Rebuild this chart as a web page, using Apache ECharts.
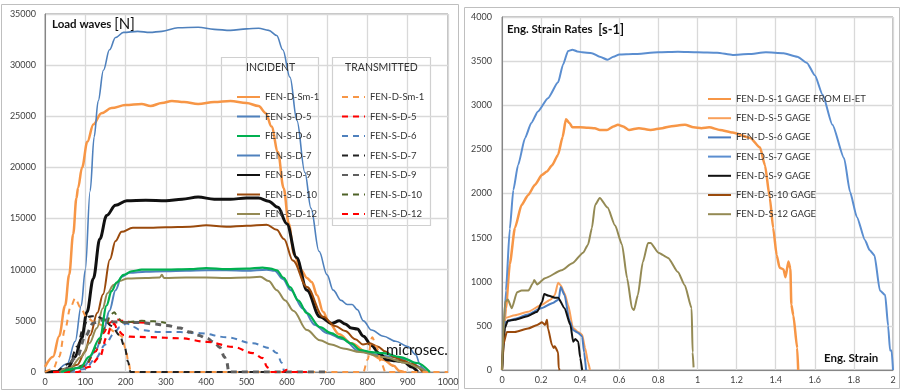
<!DOCTYPE html>
<html><head><meta charset="utf-8">
<script src="https://cdn.jsdelivr.net/npm/echarts@6/dist/echarts.min.js"></script>
<style>html,body{margin:0;padding:0;background:#fff}#c{width:902px;height:392px}</style>
</head><body><div id="c"></div>
<script>
// ---------- Left chart: load waves [N] vs microsec ----------
const loadTicksX = [0,100,200,300,400,500,600,700,800,900,1000];
const loadTicksY = [0,5000,10000,15000,20000,25000,30000,35000];
// incident waves
const incSm1 = [[0,500],[20,1500],[35,3500],[50,6500],[60,9500],[70,13500],[78,17000],[82,18000],[92,20000],[105,22500],[120,24200],[140,25300],[165,25800],[200,26100],[240,26200],[262,26000],[290,26300],[315,26500],[345,26400],[380,26200],[420,26400],[460,26500],[500,26300],[530,26000],[548,25300],[562,24000],[578,21500],[592,18000],[605,14500],[618,11500],[635,10000],[650,9200],[662,8800],[675,7500],[690,5900],[705,4800],[730,3700],[760,2800],[800,1900],[840,1200],[865,600],[880,100],[890,0]];
const incS5 = [[50,0],[95,500],[125,2000],[145,4000],[160,6000],[175,8000],[190,9300],[210,9700],[250,9800],[300,9850],[350,9900],[400,9950],[450,9950],[500,9900],[550,10000],[570,9900],[590,9100],[610,8000],[640,6200],[670,4600],[700,3800],[740,3200],[780,2000],[820,1700],[860,1500],[900,1200],[930,500],[948,0]];
const incS6 = [[40,0],[87,400],[110,1500],[136,3300],[153,6500],[165,7900],[178,8750],[195,9500],[215,9850],[240,10000],[300,10000],[360,10050],[400,10150],[450,10050],[500,10100],[540,10200],[560,10100],[575,9950],[592,9200],[608,8300],[628,7000],[650,5750],[682,4400],[710,3800],[732,3400],[760,2800],[782,2150],[810,1950],[839,1850],[881,1460],[923,880],[955,0]];
const incS7 = [[30,0],[55,800],[75,3000],[90,6500],[100,10000],[112,17700],[122,23000],[132,26500],[145,29500],[160,31500],[175,32700],[195,33200],[230,33300],[260,33200],[290,33300],[330,33650],[380,33700],[420,33500],[460,33400],[500,33550],[530,33600],[555,33400],[575,32900],[590,31500],[608,28800],[625,24600],[645,19500],[660,16000],[680,11800],[700,9500],[715,8000],[735,7000],[750,6600],[762,6600],[775,6100],[790,5000],[810,4100],[840,3500],[870,3000],[900,2500],[920,1700],[930,800],[938,0]];
const incS9 = [[0,0],[30,50],[55,300],[75,1500],[91,3300],[104,5850],[120,9150],[136,13000],[153,15300],[175,16300],[203,16750],[250,16800],[300,16750],[340,16900],[380,17100],[420,16900],[460,16900],[500,17000],[530,17000],[555,16700],[578,16100],[600,14500],[624,11200],[650,8000],[682,5400],[712,4750],[730,5000],[745,4700],[760,4300],[775,4200],[790,3500],[810,2600],[830,1800],[848,1200],[870,1100],[890,1000],[910,500],[925,0]];
const incS10 = [[20,0],[50,100],[80,700],[100,2000],[112,3600],[130,5800],[144,7600],[161,11000],[175,12800],[190,13700],[218,14100],[260,14100],[300,14150],[360,14200],[400,14350],[450,14200],[500,14300],[550,14400],[575,13900],[593,13000],[615,10900],[650,8300],[690,5400],[720,4500],[745,4000],[770,3200],[789,2700],[806,2800],[825,2500],[845,2000],[866,1450],[890,1100],[910,800],[938,0]];
const incS12 = [[30,0],[62,400],[90,1500],[110,2800],[129,4300],[143,6200],[155,7700],[170,8500],[185,8900],[205,9150],[250,9200],[285,9250],[290,9500],[295,9200],[350,9250],[400,9250],[450,9200],[500,9250],[534,9300],[555,8900],[575,8000],[596,7000],[616,6000],[650,4100],[682,3100],[710,2700],[740,2300],[782,1950],[839,1460],[898,880],[925,450],[947,0]];
// transmitted waves
const trSm1 = [[0,0],[20,300],[35,1500],[50,4200],[63,6300],[75,7200],[88,6300],[104,5300],[125,4800],[153,4400],[175,3900],[190,3500],[200,2300],[207,1000],[213,0],[300,0],[400,0],[500,0],[600,0],[700,0],[790,0],[800,1200],[812,3400],[822,2500],[835,800],[845,0],[1000,0]];
const trS5 = [[60,0],[100,600],[125,2000],[145,3800],[160,4800],[175,5150],[195,5000],[220,4850],[255,4800]];
const trS6 = [[60,0],[100,300],[125,1300],[150,2700],[170,3700],[186,4400],[203,4750],[220,4400],[236,4100],[285,3900],[335,3900],[385,3800],[451,3400],[516,2800],[558,2350],[575,1850],[588,880],[593,0]];
const trS7 = [[30,0],[60,800],[80,2500],[95,4300],[108,5400],[125,5500],[145,5200],[165,4500],[185,3600],[198,2400],[206,1000],[212,0],[300,0],[400,0],[500,0],[600,0]];
const trS9 = [[50,0],[80,1500],[100,3500],[120,4800],[145,5100],[170,4900],[200,4850],[236,4850],[270,4700],[302,4550],[335,4300],[360,3900],[380,3600],[401,3300],[420,2900],[434,2400],[445,1500],[451,1000],[456,0],[500,0],[600,0],[700,0]];
const trS10 = [[60,0],[100,700],[130,2500],[150,4400],[163,5600],[172,5850],[180,5400],[190,4900],[210,4900],[240,5000],[270,4950],[300,4800]];
const trS12 = [[20,0],[80,0],[110,500],[136,1460],[153,3400],[165,4500],[172,4700],[180,4100],[195,3600],[211,3450],[261,3400],[335,3300],[402,2950],[467,2450],[516,1850],[541,1350],[551,500],[558,0],[590,0],[600,200],[610,0],[650,0]];

// ---------- Right chart: eng. strain rates vs eng. strain ----------
const rateTicksX = [0,0.2,0.4,0.6,0.8,1,1.2,1.4,1.6,1.8,2];
const rateTicksY = [0,500,1000,1500,2000,2500,3000,3500,4000];
const gS1 = [[0,0],[0.02,700],[0.04,1200],[0.066,1610],[0.1,1870],[0.133,1980],[0.169,2100],[0.204,2210],[0.23,2250],[0.256,2320],[0.287,2440],[0.31,2640],[0.327,2840],[0.345,2800],[0.36,2750],[0.4,2750],[0.44,2745],[0.475,2740],[0.5,2720],[0.537,2720],[0.57,2760],[0.593,2780],[0.62,2760],[0.65,2720],[0.7,2740],[0.76,2720],[0.82,2740],[0.86,2760],[0.9,2770],[0.936,2780],[0.98,2750],[1.02,2740],[1.06,2750],[1.115,2720],[1.18,2690],[1.27,2630],[1.32,2520],[1.345,2320],[1.37,1950],[1.387,1610],[1.405,1300],[1.42,1160],[1.44,1140],[1.45,1050],[1.465,1230],[1.475,1150],[1.48,740],[1.49,620],[1.51,250],[1.515,0]];
const gS5 = [[0,0],[0.015,590],[0.066,620],[0.133,660],[0.204,740],[0.25,800],[0.27,850],[0.287,990],[0.3,960],[0.32,870],[0.338,740],[0.363,480],[0.39,430],[0.41,400],[0.425,250],[0.44,90],[0.45,0]];
const gS6 = [[0,0],[0.015,540],[0.066,580],[0.133,630],[0.2,700],[0.26,760],[0.29,800],[0.3,940],[0.32,850],[0.345,560],[0.365,450],[0.39,420],[0.41,380],[0.42,200],[0.43,0]];
const gS7 = [[0,0],[0.02,900],[0.04,1600],[0.058,2040],[0.082,2320],[0.118,2630],[0.15,2800],[0.184,2930],[0.235,3080],[0.287,3260],[0.312,3460],[0.338,3615],[0.36,3630],[0.385,3610],[0.41,3600],[0.46,3590],[0.5,3550],[0.54,3515],[0.57,3550],[0.6,3575],[0.67,3580],[0.8,3600],[0.9,3605],[1.0,3600],[1.1,3595],[1.18,3570],[1.26,3580],[1.35,3600],[1.44,3590],[1.51,3550],[1.56,3480],[1.6,3340],[1.64,3120],[1.69,2780],[1.75,2400],[1.78,2020],[1.815,1735],[1.857,1470],[1.88,1360],[1.905,1300],[1.933,900],[1.96,850],[1.975,500],[1.985,220],[1.993,220],[2.0,0]];
const gS9 = [[0,0],[0.015,480],[0.03,560],[0.066,570],[0.13,610],[0.18,660],[0.205,770],[0.216,860],[0.24,840],[0.27,820],[0.287,820],[0.32,700],[0.35,510],[0.364,320],[0.375,350],[0.39,320],[0.4,140],[0.41,0]];
const gS10 = [[0,0],[0.005,280],[0.025,430],[0.066,430],[0.133,470],[0.18,510],[0.205,540],[0.22,510],[0.23,570],[0.235,470],[0.256,280],[0.265,250],[0.27,270],[0.287,200],[0.29,20],[0.295,0]];
const gS12 = [[0,0],[0.015,770],[0.03,800],[0.05,700],[0.077,880],[0.1,900],[0.135,900],[0.16,990],[0.165,1020],[0.18,970],[0.22,1040],[0.305,1130],[0.36,1210],[0.415,1330],[0.44,1420],[0.46,1610],[0.476,1870],[0.5,1950],[0.54,1840],[0.578,1640],[0.614,1420],[0.64,1040],[0.665,700],[0.675,680],[0.695,850],[0.72,1220],[0.747,1440],[0.76,1440],[0.8,1330],[0.85,1270],[0.9,1110],[0.935,960],[0.97,700],[0.975,200],[0.98,30]];

const incNames = ['FEN-D-Sm-1','FEN-S-D-5','FEN-S-D-6','FEN-S-D-7','FEN-S-D-9','FEN-S-D-10','FEN-S-D-12'];
const trNames = ['FEN-D-Sm-1 ','FEN-S-D-5 ','FEN-S-D-6 ','FEN-S-D-7 ','FEN-S-D-9 ','FEN-S-D-10 ','FEN-S-D-12 '];
const gageNames = ['FEN-D-S-1 GAGE FROM EI-ET','FEN-D-S-5 GAGE','FEN-D-S-6 GAGE','FEN-D-S-7 GAGE','FEN-D-S-9 GAGE','FEN-D-S-10 GAGE','FEN-D-S-12 GAGE'];

const FONT = 'Lato, "Open Sans", sans-serif';
function ln(name, data, color, width, dashed, grid, z){
  return {type:'line', name, data, xAxisIndex:grid, yAxisIndex:grid, symbol:'none', showSymbol:false,
    smooth:0.35, smoothMonotone:'x', z:z||2, animation:false,
    lineStyle:{color, width, type: dashed ? [6,5] : 'solid', cap:'butt'},
    itemStyle:{color}};
}
const ORANGE='#F79646', BLUE='#4F81BD', GREEN='#00B050', BLACK='#111111', BROWN='#9A4A0C', OLIVE='#948A54', GRAY='#5F5F5F', DKOLIVE='#4F6228', RED='#FF0000';

const incSeries = [
  ln(incNames[0], incSm1, ORANGE, 2.5, false, 0),
  ln(incNames[1], incS5, BLUE, 2, false, 0),
  ln(incNames[2], incS6, GREEN, 2.2, false, 0, 3),
  ln(incNames[3], incS7, BLUE, 1.6, false, 0),
  ln(incNames[4], incS9, BLACK, 3, false, 0),
  ln(incNames[5], incS10, BROWN, 2, false, 0),
  ln(incNames[6], incS12, OLIVE, 2, false, 0)
];
const trSeries = [
  ln(trNames[0], trSm1, ORANGE, 2, true, 0),
  ln(trNames[1], trS5, RED, 2, true, 0),
  ln(trNames[2], trS6, BLUE, 2, true, 0),
  ln(trNames[3], trS7, '#222222', 2, true, 0),
  ln(trNames[4], trS9, GRAY, 3, true, 0),
  ln(trNames[5], trS10, DKOLIVE, 2, true, 0),
  ln(trNames[6], trS12, RED, 2.2, true, 0)
];
const gSeries = [
  ln(gageNames[0], gS1, ORANGE, 2.5, false, 1),
  ln(gageNames[1], gS5, '#F9A05A', 2, false, 1),
  ln(gageNames[2], gS6, '#4A7CC0', 2, false, 1),
  ln(gageNames[3], gS7, '#5B8ED0', 2, false, 1),
  ln(gageNames[4], gS9, BLACK, 2, false, 1),
  ln(gageNames[5], gS10, BROWN, 2, false, 1),
  ln(gageNames[6], gS12, OLIVE, 2, false, 1)
];
gSeries.forEach(s=>{s.smooth=0.2;});

const plain = v => String(v);
const axisLbl = {color:'#404040', fontSize:9, fontFamily:FONT, formatter:plain};
const splitL = {show:true, lineStyle:{color:'#D9D9D9', width:1.3}};
const axLine = {show:true, lineStyle:{color:'#868686', width:1}};
function legend(names, left, top, gap){
  return {data:names, orient:'vertical', left, top, itemWidth:23, itemHeight:10, itemGap:gap,
    padding:0, selectedMode:false, itemStyle:{opacity:0, borderWidth:0},
    textStyle:{fontSize:9.5, color:'#333', fontFamily:FONT}};
}

const chart = echarts.init(document.getElementById('c'), null, {renderer:'canvas'});
chart.setOption({
  animation:false,
  backgroundColor:'#fff',
  grid:[
    {left:45, top:14, width:403, height:358, show:true, borderColor:'#868686', borderWidth:1},
    {left:502, top:17, width:391, height:353, show:true, borderColor:'#868686', borderWidth:1}
  ],
  xAxis:[
    {type:'value', gridIndex:0, min:loadTicksX[0], max:loadTicksX[loadTicksX.length-1], interval:100,
     axisLine:axLine, axisTick:{show:false}, splitLine:splitL, axisLabel:Object.assign({margin:6},axisLbl)},
    {type:'value', gridIndex:1, min:rateTicksX[0], max:rateTicksX[rateTicksX.length-1], interval:0.2,
     axisLine:axLine, axisTick:{show:false}, splitLine:splitL, axisLabel:Object.assign({margin:6},axisLbl)}
  ],
  yAxis:[
    {type:'value', gridIndex:0, min:loadTicksY[0], max:loadTicksY[loadTicksY.length-1], interval:5000,
     axisLine:axLine, axisTick:{show:false}, splitLine:splitL, axisLabel:Object.assign({margin:9},axisLbl)},
    {type:'value', gridIndex:1, min:rateTicksY[0], max:rateTicksY[rateTicksY.length-1], interval:500,
     axisLine:axLine, axisTick:{show:false}, splitLine:splitL, axisLabel:Object.assign({margin:10},axisLbl)}
  ],
  legend:[
    legend(incNames, 236, 92, 9.5),
    legend(trNames, 341, 92, 9.5),
    legend(gageNames, 707, 94, 9.2)
  ],
  graphic:[
    {type:'rect', z:-1, silent:true, shape:{x:1.5, y:4.5, width:457, height:385}, style:{fill:'none', stroke:'#BFBFBF', lineWidth:1}},
    {type:'rect', z:-1, silent:true, shape:{x:464.5, y:7.5, width:435, height:381}, style:{fill:'none', stroke:'#BFBFBF', lineWidth:1}},
    {type:'rect', z:0, silent:true, shape:{x:221.5, y:57.5, width:97, height:168}, style:{fill:'none', stroke:'#D0D0D0', lineWidth:1.2}},
    {type:'rect', z:0, silent:true, shape:{x:332.5, y:57.5, width:98, height:168}, style:{fill:'none', stroke:'#D0D0D0', lineWidth:1.2}},
    {type:'text', z:10, left:246, top:62, style:{text:'INCIDENT', font:'10.5px '+FONT, fill:'#333'}},
    {type:'text', z:10, left:345, top:62, style:{text:'TRANSMITTED', font:'10.5px '+FONT, fill:'#333'}},
    {type:'text', z:10, left:52, top:17, style:{text:'{a|Load waves }{b|[N]}', rich:{a:{font:'bold 11.5px '+FONT, fill:'#111'}, b:{font:'15px '+FONT, fill:'#111'}}}},
    {type:'text', z:10, left:507, top:23, style:{text:'{a|Eng. Strain Rates  }{b|[s-1]}', rich:{a:{font:'bold 11.5px '+FONT, fill:'#111'}, b:{font:'bold 13px '+FONT, fill:'#111'}}}},
    {type:'text', z:10, left:386, top:343, style:{text:'microsec.', font:'15px '+FONT, fill:'#111'}},
    {type:'text', z:10, left:824, top:352, style:{text:'Eng. Strain', font:'bold 11.5px '+FONT, fill:'#111'}}
  ],
  series: incSeries.concat(trSeries, gSeries)
});
</script></body></html>
